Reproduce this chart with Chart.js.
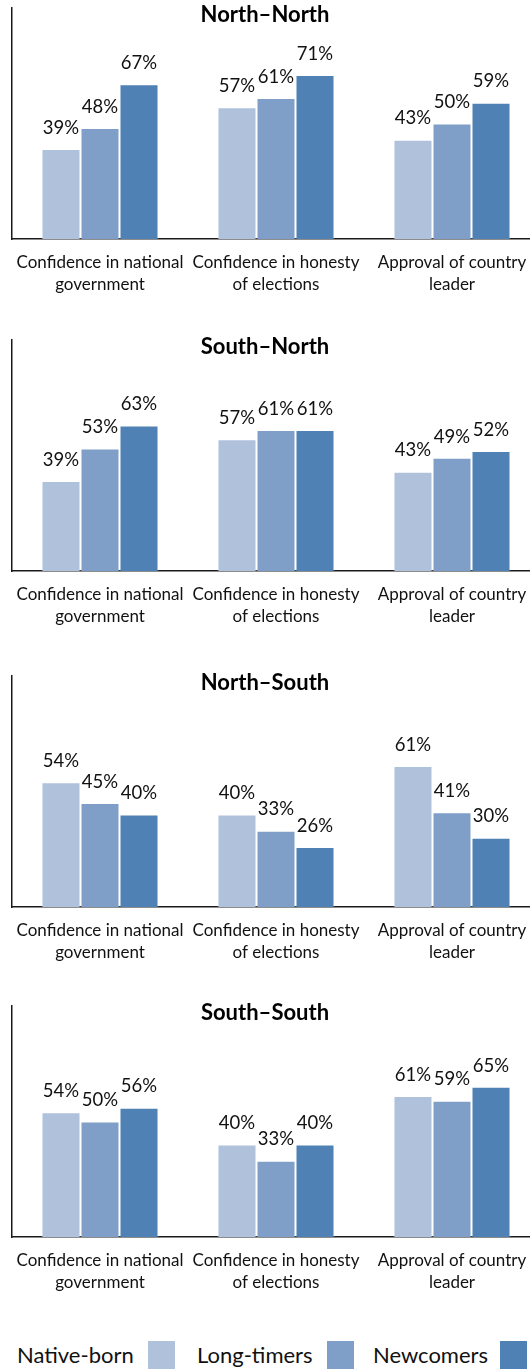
<!DOCTYPE html>
<html>
<head>
<meta charset="utf-8">
<script src="https://cdn.jsdelivr.net/npm/chart.js@4.4.0/dist/chart.umd.min.js"></script>
<style>
  html, body { margin: 0; padding: 0; background: #fff; overflow: hidden; }
  body { width: 530px; height: 1370px; position: relative; font-family: Lato, "Noto Sans", sans-serif; }
  .panel { position: absolute; left: 0; width: 540px; height: 300px; }
  #legend { position: absolute; left: 0; top: 1341px; width: 530px; height: 28px; }
  #legend .label { position: absolute; top: 0; line-height: 28px; font-size: 22px; color: #111; white-space: nowrap; }
  #legend .box { position: absolute; top: 0; width: 27px; height: 28px; }
</style>
</head>
<body>
<div id="panels"></div>
<div id="legend"></div>
<script>
// survey groups and the three measures asked about
const seriesNames = ['Native-born', 'Long-timers', 'Newcomers'];
const seriesColors = ['#b0c1dc', '#7f9ec8', '#4f81b5'];
const categories = [
    ['Confidence in national', 'government'],
    ['Confidence in honesty', 'of elections'],
    ['Approval of country', 'leader']
];
const panelTitles = ['North\u2013North', 'South\u2013North', 'North\u2013South', 'South\u2013South'];

// percentages per group: [native-born, long-timers, newcomers], each over the 3 measures
const northNorth = [[39, 57, 43], [48, 61, 50], [67, 71, 59]];
const southNorth = [[39, 57, 43], [53, 61, 49], [63, 61, 52]];
const northSouth = [[54, 40, 61], [45, 33, 41], [40, 26, 30]];
const southSouth = [[54, 40, 61], [50, 33, 59], [56, 40, 65]];
const panelData = [northNorth, southNorth, northSouth, southSouth];

const panelTops = [0, 332, 668, 998];
const legendTextX = [17, 197, 373];
const legendBoxX = [148, 327, 500];

// value labels on top of each bar
const valueLabels = {
    id: 'valueLabels',
    afterDatasetsDraw(chart) {
        const ctx = chart.ctx;
        ctx.save();
        ctx.font = '18.5px Lato, "Noto Sans", sans-serif';
        ctx.fillStyle = '#111';
        ctx.textAlign = 'center';
        ctx.textBaseline = 'bottom';
        chart.data.datasets.forEach((ds, i) => {
            chart.getDatasetMeta(i).data.forEach((bar, j) => {
                ctx.fillText(ds.data[j] + '%', bar.x, bar.y - 12);
            });
        });
        ctx.restore();
    }
};

// bold panel title drawn inside the plot area
const panelTitle = {
    id: 'panelTitle',
    afterDraw(chart, args, opts) {
        const ctx = chart.ctx;
        ctx.save();
        ctx.font = 'bold 22px Lato, "Noto Sans", sans-serif';
        ctx.fillStyle = '#000';
        ctx.textAlign = 'center';
        ctx.textBaseline = 'middle';
        ctx.fillText(opts.text, 265, 15);
        ctx.restore();
    }
};

const panelsEl = document.getElementById('panels');

panelData.forEach((rows, p) => {
    const wrap = document.createElement('div');
    wrap.className = 'panel';
    wrap.style.top = panelTops[p] + 'px';
    const canvas = document.createElement('canvas');
    canvas.width = 540;
    canvas.height = 300;
    wrap.appendChild(canvas);
    panelsEl.appendChild(wrap);

    new Chart(canvas.getContext('2d'), {
        type: 'bar',
        data: {
            labels: categories,
            datasets: rows.map((vals, i) => ({
                label: seriesNames[i],
                data: vals,
                backgroundColor: seriesColors[i],
                borderColor: 'rgba(255,255,255,0.35)',
                borderWidth: 1,
                barPercentage: 1,
                categoryPercentage: 0.665
            }))
        },
        options: {
            responsive: false,
            animation: false,
            layout: { padding: { top: 8, left: 0, right: 0, bottom: 0 } },
            scales: {
                x: {
                    grid: { display: false, drawTicks: false },
                    border: { display: true, color: '#1a1a1a', width: 1.5 },
                    ticks: {
                        color: '#111',
                        padding: 12,
                        maxRotation: 0,
                        autoSkip: false,
                        font: { family: 'Lato, "Noto Sans", sans-serif', size: 17, lineHeight: 1.3 }
                    },
                    afterFit(scale) { scale.height = 61; }
                },
                y: {
                    min: 0,
                    max: 100,
                    grid: { display: false, drawTicks: false },
                    border: { display: true, color: '#1a1a1a', width: 1.5 },
                    ticks: { display: false },
                    afterFit(scale) { scale.width = 12; }
                }
            },
            plugins: {
                legend: { display: false },
                tooltip: { enabled: false },
                panelTitle: { text: panelTitles[p] }
            }
        },
        plugins: [valueLabels, panelTitle]
    });
});

// legend: name first, then colour swatch
const legendEl = document.getElementById('legend');
seriesNames.forEach((name, i) => {
    const label = document.createElement('span');
    label.className = 'label';
    label.style.left = legendTextX[i] + 'px';
    label.textContent = name;
    const box = document.createElement('span');
    box.className = 'box';
    box.style.left = legendBoxX[i] + 'px';
    box.style.background = seriesColors[i];
    legendEl.appendChild(label);
    legendEl.appendChild(box);
});
</script>
</body>
</html>
